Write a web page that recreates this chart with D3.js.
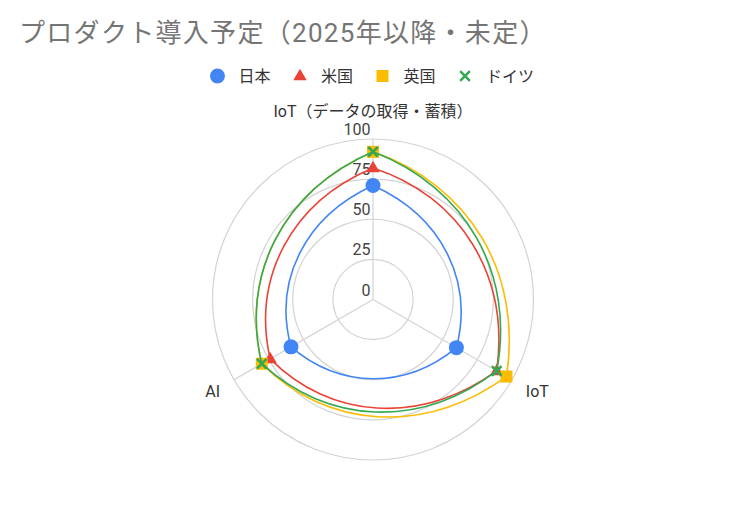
<!DOCTYPE html>
<html><head><meta charset="utf-8">
<script src="https://cdn.jsdelivr.net/npm/d3@7"></script>
<style>
body{margin:0;background:#fff}
svg{display:block}
text{font-family:Roboto,"Noto Sans CJK JP",sans-serif}
</style>
</head><body>
<svg id="c" width="742" height="515"></svg>
<script>
// ---- data ----
const title = "プロダクト導入予定（2025年以降・未定）";
const categories = ["IoT（データの取得・蓄積）", "IoT", "AI"];
const seriesNames = ["日本", "米国", "英国", "ドイツ"];
const japan = [71, 60, 59];
const usa = [82, 89, 74];
const uk = [92, 96, 80];
const germany = [92, 89, 80];
const tickValues = [0, 25, 50, 75, 100];

const seriesValues = [japan, usa, uk, germany];
const colors = ["#4285F4", "#EA4335", "#FBBC04", "#34A853"];
const shapes = ["circle", "triangle", "square", "x"];

const W = 742, H = 515;
const cx = 373, cy = 299.5, R = 160.5;
const svg = d3.select("#c");
svg.append("rect").attr("width", W).attr("height", H).attr("fill", "#fff");

const rScale = d3.scaleLinear().domain([0, 100]).range([0, R]);
const ang = d3.scaleLinear().domain([0, categories.length]).range([0, 2 * Math.PI]);
const pt = (a, r) => [cx + r * Math.sin(a), cy - r * Math.cos(a)];

// title
svg.append("text").attr("x", 19).attr("y", 42)
  .attr("font-size", 26).attr("letter-spacing", 1.3).attr("fill", "#757575").text(title);

// grid
const grid = svg.append("g");
tickValues.filter(v => v > 0).forEach(v => {
  grid.append("circle").attr("cx", cx).attr("cy", cy).attr("r", rScale(v))
    .attr("fill", "none").attr("stroke", "#d3d3d3").attr("stroke-width", 1.2);
});
categories.forEach((c, i) => {
  const e = pt(ang(i), rScale(100));
  grid.append("line").attr("x1", cx).attr("y1", cy).attr("x2", e[0]).attr("y2", e[1])
    .attr("stroke", "#d3d3d3").attr("stroke-width", 1.2);
});

// tick labels
tickValues.forEach(v => {
  svg.append("text").attr("x", cx - 2.5).attr("y", cy - rScale(v) - 4)
    .attr("text-anchor", "end").attr("font-size", 16).attr("fill", "#444").text(v);
});

// axis labels
categories.forEach((c, i) => {
  const a = ang(i);
  const t = svg.append("text").attr("font-size", 16).attr("fill", "#333").text(c);
  if (i === 0) {
    t.attr("x", cx).attr("y", cy - rScale(100) - 22).attr("text-anchor", "middle");
  } else {
    const p = pt(a, rScale(100) + 16);
    t.attr("x", p[0]).attr("y", p[1] + 9)
     .attr("text-anchor", Math.sin(a) > 0 ? "start" : "end");
  }
});

// smooth radar path
function smoothPath(vals) {
  const p = d3.path();
  const n = vals.length;
  const s = pt(ang(0), rScale(vals[0]));
  p.moveTo(s[0], s[1]);
  for (let i = 0; i < n; i++) {
    const j = (i + 1) % n;
    const a0 = ang(i), a1 = ang(i + 1);
    const r0 = rScale(vals[i]), r1 = rScale(vals[j]);
    const c1 = pt(a0 + (a1 - a0) / 3, r0 + (r1 - r0) / 3);
    const c2 = pt(a0 + 2 * (a1 - a0) / 3, r0 + 2 * (r1 - r0) / 3);
    const e = pt(a1, r1);
    p.bezierCurveTo(c1[0], c1[1], c2[0], c2[1], e[0], e[1]);
  }
  p.closePath();
  return p.toString();
}

function drawMarker(g, shape, x, y, color) {
  if (shape === "circle") {
    g.append("circle").attr("cx", x).attr("cy", y).attr("r", 7.5).attr("fill", color);
  } else if (shape === "triangle") {
    g.append("path").attr("d", d3.symbol(d3.symbolTriangle, 78)())
      .attr("transform", `translate(${x},${y + 0.5})`).attr("fill", color);
  } else if (shape === "square") {
    g.append("rect").attr("x", x - 6).attr("y", y - 6).attr("width", 12).attr("height", 12).attr("fill", color);
  } else {
    const L = 4.8;
    g.append("path").attr("d", `M${x - L},${y - L}L${x + L},${y + L}M${x - L},${y + L}L${x + L},${y - L}`)
      .attr("stroke", color).attr("stroke-width", 2.6).attr("fill", "none");
  }
}

// series
seriesValues.forEach((vals, si) => {
  const g = svg.append("g");
  g.append("path").attr("d", smoothPath(vals)).attr("fill", "none")
    .attr("stroke", colors[si]).attr("stroke-width", 1.6);
  vals.forEach((v, i) => {
    const p = pt(ang(i), rScale(v));
    drawMarker(g, shapes[si], p[0], p[1], colors[si]);
  });
});

// legend
const leg = svg.append("g");
const items = seriesNames.map((name, i) => {
  const g = leg.append("g");
  const t = g.append("text").attr("x", 28.5).attr("y", 5.5).attr("font-size", 16)
    .attr("fill", "#333").text(name);
  drawMarker(g, shapes[i], 7.5, 0, colors[i]);
  return { g, w: 28.5 + t.node().getComputedTextLength() };
});
const gap = 22;
const total = d3.sum(items, d => d.w) + gap * (items.length - 1);
let x0 = 372 - total / 2;
items.forEach(it => {
  it.g.attr("transform", `translate(${x0},76)`);
  x0 += it.w + gap;
});
</script>
</body></html>
